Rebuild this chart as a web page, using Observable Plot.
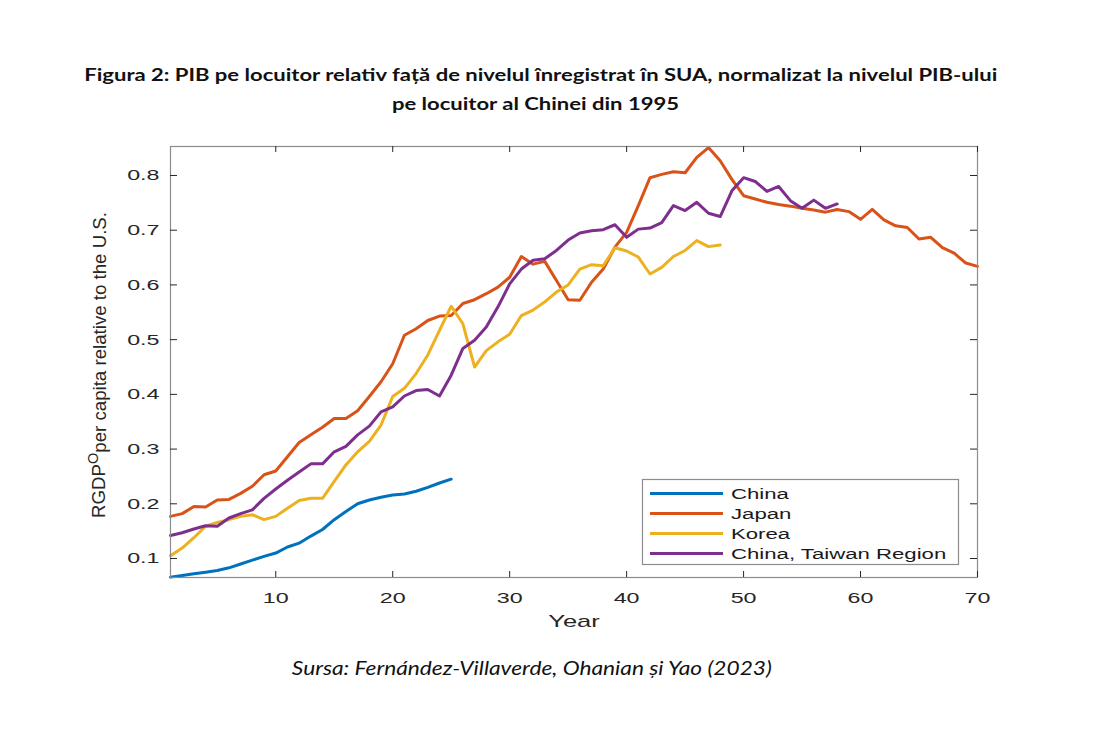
<!DOCTYPE html>
<html><head><meta charset="utf-8">
<script src="https://cdn.jsdelivr.net/npm/d3@7"></script>
<script src="https://cdn.jsdelivr.net/npm/@observablehq/plot@0.6"></script>
<style>
body{margin:0;background:#fff;width:1103px;}
#title{height:130px;box-sizing:border-box;padding-top:61px;padding-right:22px;text-align:center;font-family:Lato,"Open Sans",sans-serif;font-weight:700;font-size:16.5px;line-height:29px;color:#111;}
#title span, #caption span{display:inline-block;white-space:nowrap;transform-origin:50% 50%;}
#chart{height:517px;}
#caption{margin-top:7px;padding-right:40px;text-align:center;font-family:Lato,"Open Sans",sans-serif;font-style:italic;font-size:19px;line-height:28px;color:#111;}
</style></head><body>
<div id="title"><span class="t1">Figura 2: PIB pe locuitor relativ față de nivelul înregistrat în SUA, normalizat la nivelul PIB-ului</span><br><span class="t2">pe locuitor al Chinei din 1995</span></div>
<div id="chart"></div>
<div id="caption"><span class="c1">Sursa: Fernández-Villaverde, Ohanian și Yao (2023)</span></div>
<script>
const seriesNames = ["China", "Japan", "Korea", "China, Taiwan Region"];
const seriesColors = ["#0072BD", "#D95319", "#EDB120", "#7E2F8E"];

const china = [0.066,0.069,0.072,0.075,0.078,0.083,0.090,0.097,0.104,0.110,
  0.121,0.128,0.141,0.153,0.171,0.186,0.200,0.207,0.212,0.216,
  0.218,0.223,0.230,0.238,0.245];
const japan = [0.177,0.182,0.195,0.194,0.207,0.208,0.219,0.232,0.253,0.260,
  0.286,0.312,0.326,0.340,0.356,0.356,0.370,0.396,0.423,0.456,
  0.508,0.520,0.535,0.543,0.544,0.566,0.573,0.584,0.596,0.614,
  0.652,0.638,0.643,0.608,0.573,0.572,0.605,0.629,0.669,0.696,
  0.745,0.796,0.802,0.807,0.805,0.833,0.851,0.827,0.793,0.763,
  0.757,0.751,0.747,0.744,0.740,0.737,0.733,0.738,0.734,0.720,
  0.738,0.719,0.708,0.705,0.684,0.687,0.668,0.658,0.640,0.634];
const korea = [0.105,0.119,0.138,0.159,0.166,0.171,0.177,0.180,0.171,0.177,
  0.192,0.206,0.210,0.210,0.241,0.271,0.295,0.314,0.344,0.396,
  0.411,0.438,0.472,0.517,0.561,0.529,0.450,0.480,0.496,0.510,
  0.544,0.554,0.569,0.587,0.600,0.629,0.637,0.635,0.668,0.662,
  0.651,0.620,0.632,0.652,0.663,0.681,0.670,0.673];
const taiwan = [0.142,0.147,0.154,0.160,0.159,0.174,0.182,0.189,0.210,0.227,
  0.243,0.258,0.273,0.273,0.295,0.305,0.326,0.342,0.368,0.377,
  0.397,0.407,0.409,0.397,0.435,0.484,0.499,0.523,0.560,0.602,
  0.629,0.645,0.648,0.663,0.682,0.695,0.699,0.701,0.710,0.687,
  0.702,0.704,0.714,0.745,0.736,0.751,0.731,0.725,0.772,0.796,
  0.789,0.771,0.780,0.754,0.740,0.755,0.740,0.748];
const firstYear = 1;
const xTicks = [10, 20, 30, 40, 50, 60, 70];
const yTicks = [0.1, 0.2, 0.3, 0.4, 0.5, 0.6, 0.7, 0.8];
const xLabel = "Year";
const yLabelMain = "RGDP";
const yLabelSup = "O";
const yLabelRest = "per capita relative to the U.S.";

const seriesValues = [china, japan, korea, taiwan];
const rows = [];
seriesValues.forEach((vals, s) => vals.forEach((v, i) => rows.push({series: seriesNames[s], year: firstYear + i, value: v})));

// widen title/caption to match the horizontally stretched original
function widen(sel, target) {
  const el = document.querySelector(sel);
  return target / el.getBoundingClientRect().width;
}
const kt = widen("#title .t1", 913);
document.querySelector("#title .t1").style.transform = `scaleX(${kt})`;
document.querySelector("#title .t2").style.transform = `translateX(-5px) scaleX(${kt})`;
const kc = widen("#caption .c1", 480);
document.querySelector("#caption .c1").style.transform = `scaleX(${kc})`;

const W = 1103, H = 517, mT = 16, mB = 70, mL = 170, mR = 126;
const pw = W - mL - mR, ph = H - mT - mB;
const tickColor = "#262626";

const plot = Plot.plot({
  width: W, height: H, marginTop: mT, marginBottom: mB, marginLeft: mL, marginRight: mR,
  style: {fontFamily: "'Liberation Sans', Arial, sans-serif", fontSize: "15.5px", color: "#262626", background: "#fff"},
  x: {domain: [1, 70]},
  y: {domain: [0.0653, 0.853]},
  color: {domain: seriesNames, range: seriesColors},
  marks: [
    Plot.line(rows, {x: "year", y: "value", z: "series", stroke: "series", strokeWidth: 3, strokeLinejoin: "round"}),
    Plot.frame({stroke: "#8c8c8c", strokeWidth: 1.2}),
    Plot.tickX(xTicks, {x: d => d, insetTop: ph - 6, stroke: tickColor}),
    Plot.tickX(xTicks, {x: d => d, insetBottom: ph - 6, stroke: tickColor}),
    Plot.tickY(yTicks, {y: d => d, insetRight: pw - 7, stroke: tickColor}),
    Plot.tickY(yTicks, {y: d => d, insetLeft: pw - 7, stroke: tickColor}),
    Plot.axisX(xTicks, {tickSize: 0, tickPadding: 14, label: null}),
    Plot.axisY(yTicks, {tickSize: 0, tickPadding: 11, tickFormat: d3.format(".1f"), label: null}),
    Plot.text([xLabel], {frameAnchor: "bottom", dy: 49, text: d => d, fontSize: 17, fill: "#262626"})
  ]
});
document.getElementById("chart").appendChild(plot);

const svg = d3.select(plot);
function stretch(sel, k) {
  sel.each(function() {
    const len = this.getComputedTextLength();
    this.setAttribute("textLength", len * k);
    this.setAttribute("lengthAdjust", "spacingAndGlyphs");
  });
}
stretch(svg.selectAll('g[aria-label="x-axis tick label"] text, g[aria-label="y-axis tick label"] text, g[aria-label="text"] text'), 1.5);

// y-axis label
const yl = svg.append("text")
  .attr("transform", "translate(105,235) rotate(-90)")
  .attr("text-anchor", "middle")
  .attr("font-family", "'Liberation Sans', Arial, sans-serif")
  .attr("font-size", 18)
  .attr("fill", "#262626");
yl.append("tspan").text(yLabelMain);
yl.append("tspan").attr("dy", -7).attr("font-size", 14).text(yLabelSup);
yl.append("tspan").attr("dy", 8).text(yLabelRest);
yl.attr("textLength", 306).attr("lengthAdjust", "spacingAndGlyphs");

// legend
const lg = svg.append("g").attr("font-family", "'Liberation Sans', Arial, sans-serif").attr("font-size", 15.5)
  .attr("fill", "#1a1a1a").attr("text-anchor", "start");
lg.append("rect").attr("x", 642.5).attr("y", 349.5).attr("width", 316).attr("height", 85)
  .attr("fill", "#fff").attr("stroke", "#8c8c8c").attr("stroke-width", 1.2);
seriesNames.forEach((name, i) => {
  const cy = 363.5 + i * 20;
  lg.append("line").attr("x1", 650).attr("x2", 723).attr("y1", cy).attr("y2", cy)
    .attr("stroke", seriesColors[i]).attr("stroke-width", 3);
  lg.append("text").attr("x", 731).attr("y", cy).attr("dy", "0.36em").attr("text-anchor", "start").text(name);
});
stretch(lg.selectAll("text"), 1.43);
</script>
</body></html>
